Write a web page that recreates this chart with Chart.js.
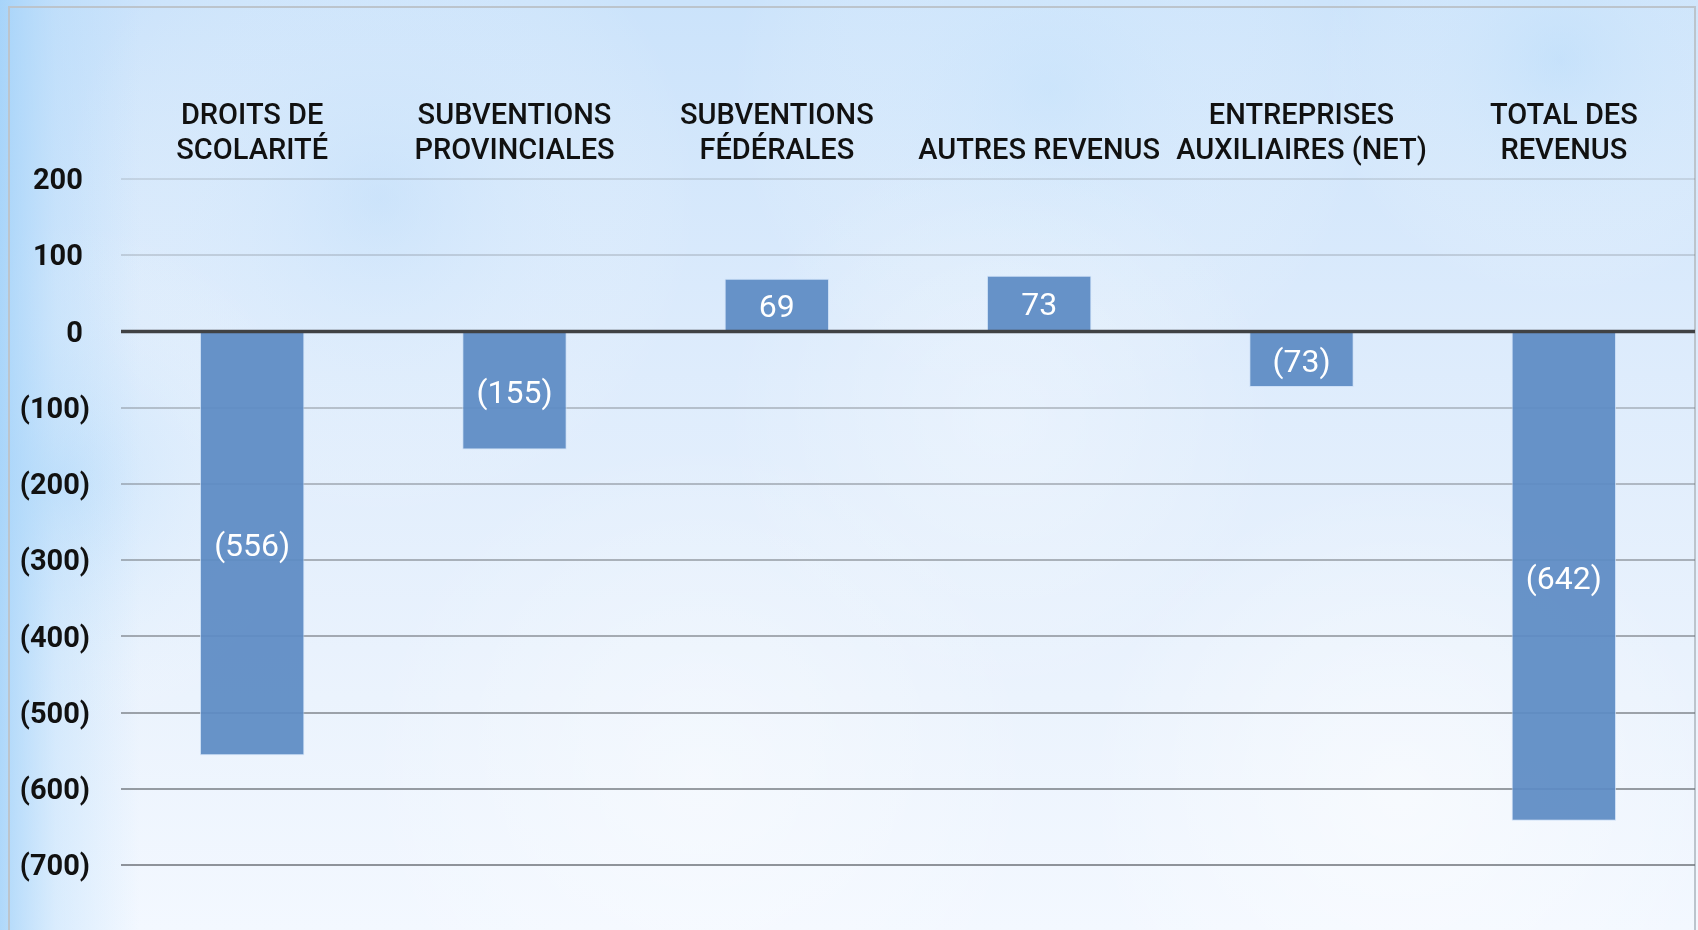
<!DOCTYPE html>
<html lang="fr">
<head>
<meta charset="utf-8">
<title>Revenus</title>
<script src="https://cdn.jsdelivr.net/npm/chart.js@4.4.0/dist/chart.umd.min.js"></script>
<style>
  html, body { margin: 0; padding: 0; background: #dcecfc; overflow: hidden; }
  #wrap { width: 1698px; height: 930px; }
</style>
</head>
<body>
<div id="wrap"><canvas id="revChart" width="1698" height="930"></canvas></div>
<script>
// Data
const categories = [
  ["DROITS DE", "SCOLARITÉ"],
  ["SUBVENTIONS", "PROVINCIALES"],
  ["SUBVENTIONS", "FÉDÉRALES"],
  "AUTRES REVENUS",
  ["ENTREPRISES", "AUXILIAIRES (NET)"],
  ["TOTAL DES", "REVENUS"]
];
const values = [-556, -155, 69, 73, -73, -642];
const yMin = -700;
const yMax = 200;
const yStep = 100;

// accounting style: negatives in parentheses
function fmt(v) {
  return v < 0 ? "(" + Math.abs(v) + ")" : String(v);
}

// Background, frame and soft clouds
const backdrop = {
  id: "backdrop",
  beforeDraw(chart) {
    const ctx = chart.ctx;
    const w = chart.width, h = chart.height;
    ctx.save();
    let g = ctx.createLinearGradient(0, 0, 0, h);
    g.addColorStop(0, "#cbe3fb");
    g.addColorStop(0.35, "#dcebfc");
    g.addColorStop(0.75, "#ebf3fd");
    g.addColorStop(1, "#f3f8ff");
    ctx.fillStyle = g;
    ctx.fillRect(0, 0, w, h);

    // soft blobs
    const blobs = [
      [380, 200, 320, "rgba(192,222,250,0.45)"],
      [1050, 90, 320, "rgba(200,228,252,0.45)"],
      [1560, 60, 240, "rgba(188,222,250,0.45)"],
      [60, 480, 260, "rgba(170,214,250,0.45)"],
      [700, 780, 340, "rgba(255,255,255,0.4)"],
      [1400, 800, 320, "rgba(255,255,255,0.5)"],
      [1000, 420, 280, "rgba(255,255,255,0.3)"]
    ];
    blobs.forEach(b => {
      const r = ctx.createRadialGradient(b[0], b[1], 0, b[0], b[1], b[2]);
      r.addColorStop(0, b[3]);
      r.addColorStop(1, "rgba(255,255,255,0)");
      ctx.fillStyle = r;
      ctx.fillRect(0, 0, w, h);
    });

    // blue glow on the left edge
    g = ctx.createLinearGradient(0, 0, 140, 0);
    g.addColorStop(0, "rgba(158,208,249,0.8)");
    g.addColorStop(0.4, "rgba(170,214,250,0.35)");
    g.addColorStop(1, "rgba(170,214,250,0)");
    ctx.fillStyle = g;
    ctx.fillRect(0, 0, 140, h);

    // frame
    ctx.strokeStyle = "#bcc4cc";
    ctx.lineWidth = 2;
    ctx.strokeRect(9, 7, 1686, h + 20);
    ctx.restore();
  }
};

// value labels in the middle of each bar + zero line on top
const barLabels = {
  id: "barLabels",
  afterDatasetsDraw(chart) {
    const ctx = chart.ctx;
    const yScale = chart.scales.y;
    const area = chart.chartArea;
    const y0 = yScale.getPixelForValue(0);
    ctx.save();
    ctx.strokeStyle = "#404244";
    ctx.lineWidth = 3.5;
    ctx.beginPath();
    ctx.moveTo(area.left, y0);
    ctx.lineTo(area.right, y0);
    ctx.stroke();

    ctx.fillStyle = "#ffffff";
    ctx.font = "32px Roboto";
    ctx.textAlign = "center";
    ctx.textBaseline = "middle";
    chart.getDatasetMeta(0).data.forEach((bar, i) => {
      const cy = (bar.y + bar.base) / 2;
      ctx.fillText(fmt(values[i]), bar.x, cy + 4);
    });
    ctx.restore();
  }
};

new Chart(document.getElementById("revChart"), {
  type: "bar",
  data: {
    labels: categories,
    datasets: [{
      data: values,
      backgroundColor: "rgba(92,139,196,0.93)",
      borderColor: "rgba(200,220,245,0.8)",
      borderWidth: 1,
      categoryPercentage: 1,
      barPercentage: 0.398
    }]
  },
  options: {
    responsive: false,
    animation: false,
    layout: { padding: { left: 0, right: 3, top: 0, bottom: 65 } },
    plugins: {
      legend: { display: false },
      tooltip: { enabled: false }
    },
    scales: {
      x: {
        position: "top",
        grid: { display: false },
        border: { display: false },
        ticks: {
          color: "#111111",
          font: { family: "Roboto", size: 29, weight: "500", lineHeight: 1.23 },
          padding: 1,
          maxRotation: 0,
          autoSkip: false
        },
        afterFit(scale) { scale.height = 179; }
      },
      y: {
        min: yMin,
        max: yMax,
        border: { display: false },
        grid: {
          drawTicks: false,
          lineWidth: 2,
          color(ctx) {
            const k = (yMax - ctx.tick.value) / (yMax - yMin);
            const a = 0.18 + 0.55 * k;
            return "rgba(105,110,116," + a.toFixed(2) + ")";
          }
        },
        ticks: {
          stepSize: yStep,
          color: "#111111",
          padding: 31,
          labelOffset: 3,
          font: { family: "Roboto", size: 29, weight: "bold" },
          callback(v) { return v < 0 ? fmt(v) : v + " "; }
        },
        afterFit(scale) { scale.width = 121; }
      }
    }
  },
  plugins: [backdrop, barLabels]
});
</script>
</body>
</html>
